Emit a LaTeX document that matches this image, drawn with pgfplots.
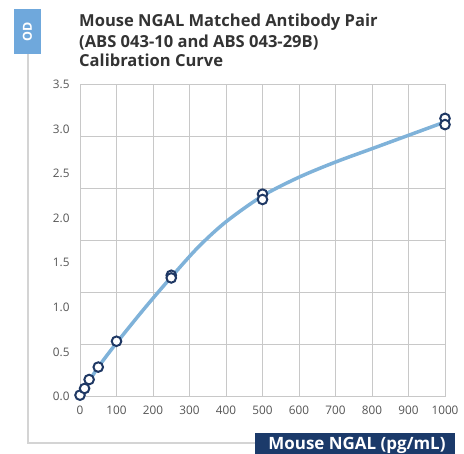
\documentclass[border=0pt]{standalone}
\usepackage{fontspec}
\setmainfont{Open Sans}[Ligatures=NoCommon]
\usepackage{pgfplots}
\pgfplotsset{compat=1.18}
\definecolor{odblue}{HTML}{6FA8DC}
\definecolor{navy}{HTML}{1B3A6A}
\definecolor{curvec}{HTML}{7FB2D9}
\definecolor{markc}{HTML}{1F3864}
\definecolor{gridc}{HTML}{C8C8C8}
\definecolor{framec}{HTML}{D4D4D4}
\definecolor{ticklab}{HTML}{555555}
\definecolor{titlec}{HTML}{333333}
\begin{document}
\begin{tikzpicture}[x=1bp,y=1bp]
\path[use as bounding box] (0,0) rectangle (464,454);
\fill[odblue] (14,400) rectangle (41,445);
\node[rotate=90, text=white, font=\bfseries\fontsize{12.5}{12.5}\selectfont] at (27.5,422.5) {OD};
\draw[framec, line width=2bp] (27.5,400) -- (27.5,11) -- (255,11);
\fill[navy] (255,0) rectangle (455,21);
\node[text=white, font=\bfseries\fontsize{17}{17}\selectfont, anchor=base, inner sep=0] at (357,4.5) {Mouse NGAL (pg/mL)};
\node[text=titlec, font=\bfseries\fontsize{16.6}{16.6}\selectfont, anchor=base west, inner sep=0] at (79,427) {Mouse NGAL Matched Antibody Pair};
\node[text=titlec, font=\bfseries\fontsize{16.6}{16.6}\selectfont, anchor=base west, inner sep=0] at (79,406) {(ABS 043-10 and ABS 043-29B)};
\node[text=titlec, font=\bfseries\fontsize{16.6}{16.6}\selectfont, anchor=base west, inner sep=0] at (79,387) {Calibration Curve};
\begin{axis}[
  at={(80bp,57.5bp)}, anchor=south west,
  scale only axis, width=365bp, height=312bp,
  xmin=0, xmax=1000, ymin=0, ymax=3.5,
  xtick={0,100,...,1000},
  ytick={0,0.5,1,1.5,2,2.5,3,3.5},
  yticklabel style={/pgf/number format/fixed, /pgf/number format/fixed zerofill, /pgf/number format/precision=1, xshift=-7bp},
  /pgf/number format/assume math mode=true,
  /pgf/number format/1000 sep={},
  tick label style={font=\fontsize{11.8}{12}\selectfont, text=ticklab},
  xticklabel style={yshift=-6bp},
  major tick length=0pt,
  axis line style={gridc, line width=0.8bp},
  xmajorgrids, ymajorgrids=false,
  grid style={gridc, line width=0.8bp},
  extra y ticks={0.583333,1.166667,1.75,2.333333,2.916667},
  extra y tick labels={},
  extra y tick style={grid=major, major tick length=0pt},
  clip=false,
]
\addplot[curvec, line width=3.5bp, smooth, no marks] coordinates {
(0,0.0) (12.5,0.085) (25,0.17) (50,0.33) (100,0.6) (175,0.98) (250,1.34)
(325,1.68) (400,1.96) (500,2.25) (600,2.46) (700,2.63) (800,2.78) (900,2.93) (1000,3.08)
};
\addplot[only marks, mark=*, mark size=4.8bp, mark options={draw=markc, fill=white, line width=2bp}] coordinates {
(0,0.015) (12.5,0.09) (25,0.19) (50,0.33) (100,0.62)
(250,1.36) (250,1.33) (500,2.27) (500,2.21) (1000,3.12) (1000,3.05)
};
\end{axis}
\end{tikzpicture}
\end{document}
